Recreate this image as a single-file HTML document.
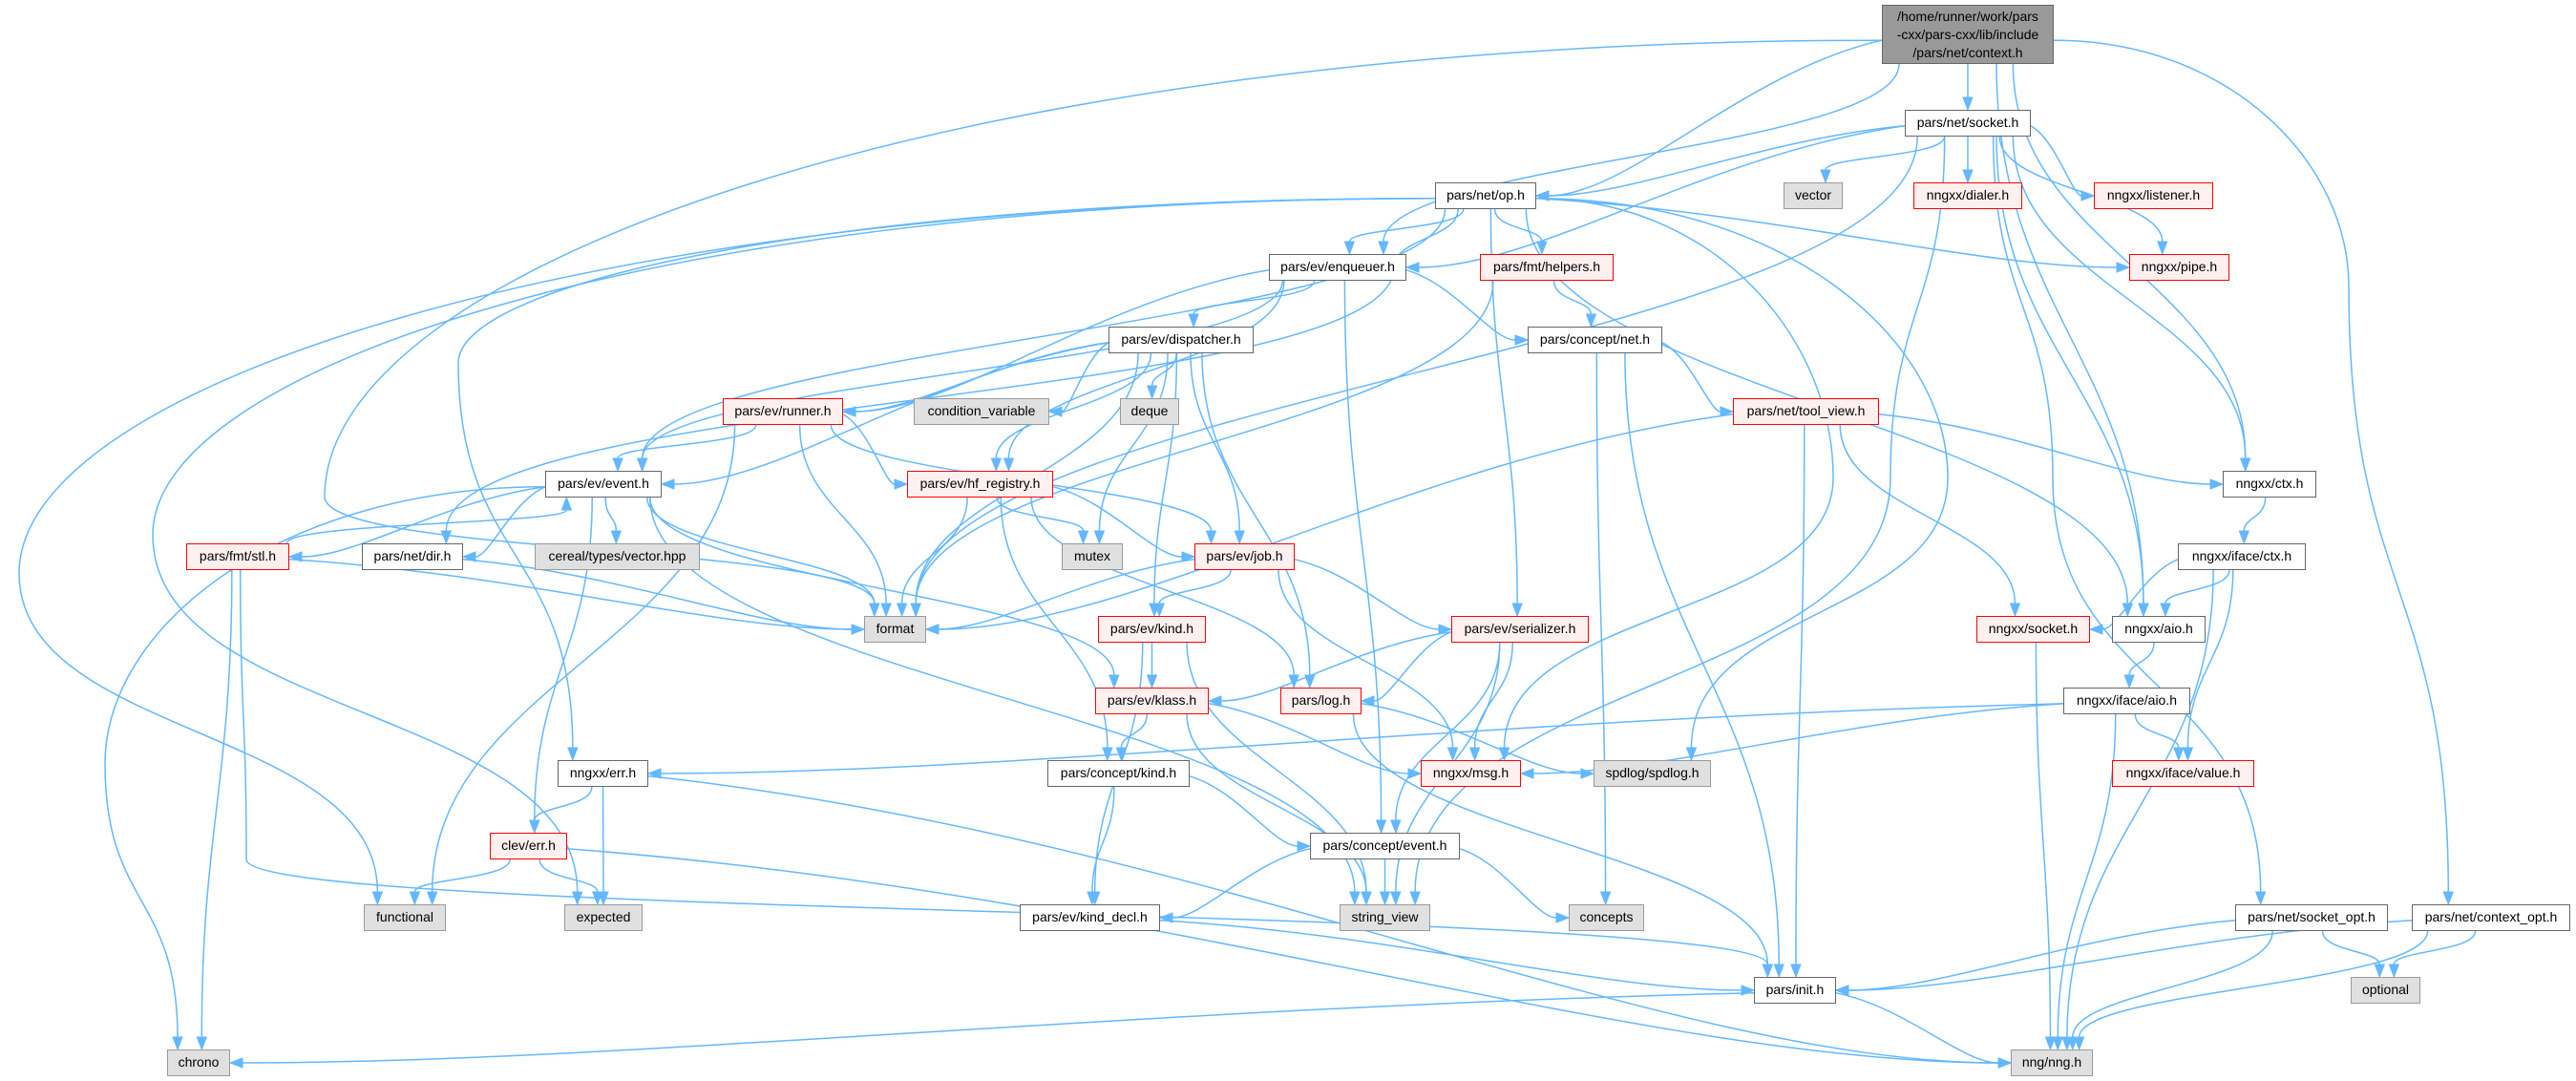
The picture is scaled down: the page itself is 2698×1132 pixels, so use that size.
<!DOCTYPE html>
<html><head><meta charset="utf-8"><style>
body{margin:0;background:#fff;}
#c{position:relative;width:2698px;height:1132px;overflow:hidden;background:#fff;font-family:"Liberation Sans","DejaVu Sans",sans-serif;}
svg{position:absolute;left:0;top:0;}
.n{position:absolute;box-sizing:border-box;height:28px;border:1.5px solid #666;background:#fff;color:#000;font-size:14px;line-height:25px;text-align:center;white-space:nowrap;z-index:2;}
.r{border-color:#f00;background:#fff0f0;}
.g{border-color:#999;background:#e0e0e0;}
.d{border-color:#666;background:#999;line-height:19px;padding-top:2px;}
</style></head><body><div id="c">
<svg id="s" width="2698" height="1132"></svg>
<div class="n d" id="context" style="left:1971px;top:5px;width:180px;height:62px">/home/runner/work/pars<br>-cxx/pars-cxx/lib/include<br>/pars/net/context.h</div>
<div class="n" id="socket" style="left:1995px;top:115px;width:132px">pars/net/socket.h</div>
<div class="n" id="op" style="left:1503px;top:191px;width:106px">pars/net/op.h</div>
<div class="n g" id="vector" style="left:1868px;top:191px;width:62px">vector</div>
<div class="n r" id="dialer" style="left:2004px;top:191px;width:114px">nngxx/dialer.h</div>
<div class="n r" id="listener" style="left:2193px;top:191px;width:125px">nngxx/listener.h</div>
<div class="n" id="enqueuer" style="left:1329px;top:266px;width:144px">pars/ev/enqueuer.h</div>
<div class="n r" id="helpers" style="left:1550px;top:266px;width:140px">pars/fmt/helpers.h</div>
<div class="n r" id="pipe" style="left:2230px;top:266px;width:105px">nngxx/pipe.h</div>
<div class="n" id="dispatcher" style="left:1161px;top:342px;width:152px">pars/ev/dispatcher.h</div>
<div class="n" id="cnet" style="left:1600px;top:342px;width:141px">pars/concept/net.h</div>
<div class="n r" id="runner" style="left:757px;top:417px;width:126px">pars/ev/runner.h</div>
<div class="n g" id="condvar" style="left:957px;top:417px;width:142px">condition_variable</div>
<div class="n g" id="deque" style="left:1173px;top:417px;width:62px">deque</div>
<div class="n r" id="toolview" style="left:1815px;top:417px;width:153px">pars/net/tool_view.h</div>
<div class="n" id="event" style="left:571px;top:493px;width:122px">pars/ev/event.h</div>
<div class="n r" id="hfreg" style="left:950px;top:493px;width:153px">pars/ev/hf_registry.h</div>
<div class="n" id="ctx" style="left:2328px;top:493px;width:98px">nngxx/ctx.h</div>
<div class="n r" id="stl" style="left:195px;top:569px;width:108px">pars/fmt/stl.h</div>
<div class="n" id="dir" style="left:379px;top:569px;width:106px">pars/net/dir.h</div>
<div class="n g" id="cereal" style="left:560px;top:569px;width:173px">cereal/types/vector.hpp</div>
<div class="n g" id="mutex" style="left:1112px;top:569px;width:64px">mutex</div>
<div class="n r" id="job" style="left:1251px;top:569px;width:105px">pars/ev/job.h</div>
<div class="n" id="ifctx" style="left:2281px;top:569px;width:134px">nngxx/iface/ctx.h</div>
<div class="n g" id="format" style="left:905px;top:645px;width:65px">format</div>
<div class="n r" id="kind" style="left:1150px;top:645px;width:113px">pars/ev/kind.h</div>
<div class="n r" id="serializer" style="left:1520px;top:645px;width:144px">pars/ev/serializer.h</div>
<div class="n r" id="nsocket" style="left:2070px;top:645px;width:119px">nngxx/socket.h</div>
<div class="n" id="aio" style="left:2212px;top:645px;width:98px">nngxx/aio.h</div>
<div class="n r" id="klass" style="left:1147px;top:720px;width:119px">pars/ev/klass.h</div>
<div class="n r" id="log" style="left:1341px;top:720px;width:85px">pars/log.h</div>
<div class="n" id="ifaio" style="left:2161px;top:720px;width:133px">nngxx/iface/aio.h</div>
<div class="n" id="err" style="left:584px;top:796px;width:95px">nngxx/err.h</div>
<div class="n" id="ckind" style="left:1097px;top:796px;width:149px">pars/concept/kind.h</div>
<div class="n r" id="msg" style="left:1488px;top:796px;width:105px">nngxx/msg.h</div>
<div class="n g" id="spdlog" style="left:1669px;top:796px;width:123px">spdlog/spdlog.h</div>
<div class="n r" id="ifvalue" style="left:2212px;top:796px;width:149px">nngxx/iface/value.h</div>
<div class="n r" id="clev" style="left:513px;top:872px;width:81px">clev/err.h</div>
<div class="n" id="cevent" style="left:1372px;top:872px;width:157px">pars/concept/event.h</div>
<div class="n g" id="functional" style="left:381px;top:947px;width:86px">functional</div>
<div class="n g" id="expected" style="left:591px;top:947px;width:82px">expected</div>
<div class="n" id="kinddecl" style="left:1068px;top:947px;width:147px">pars/ev/kind_decl.h</div>
<div class="n g" id="stringview" style="left:1403px;top:947px;width:95px">string_view</div>
<div class="n g" id="concepts" style="left:1643px;top:947px;width:79px">concepts</div>
<div class="n" id="sockopt" style="left:2341px;top:947px;width:160px">pars/net/socket_opt.h</div>
<div class="n" id="ctxopt" style="left:2526px;top:947px;width:166px">pars/net/context_opt.h</div>
<div class="n" id="init" style="left:1837px;top:1023px;width:86px">pars/init.h</div>
<div class="n g" id="optional" style="left:2462px;top:1023px;width:73px">optional</div>
<div class="n g" id="chrono" style="left:175px;top:1099px;width:66px">chrono</div>
<div class="n g" id="nng" style="left:2106px;top:1099px;width:86px">nng/nng.h</div>
</div>
<script>
var E={
context:["socket","op","enqueuer","format@340,520","ctx","aio","ctxopt@2460,300"],
socket:["op","enqueuer","vector","dialer","listener","pipe","format","stringview@1980,500","ctx","aio","sockopt@2150,500"],
op:["enqueuer","helpers","event","dir@1460,280","functional@20,600","expected@160,560","err@480,380","pipe","msg@1920,500","serializer","aio","spdlog@2040,500"],
enqueuer:["dispatcher","cnet","event","runner","hfreg","cevent"],
helpers:["cnet","format"],
dispatcher:["condvar","deque","mutex","job","hfreg","runner","event","kind","log","format"],
cnet:["toolview","init","concepts"],
runner:["event","hfreg","job","format","functional"],
toolview:["ctx","nsocket","format","init"],
event:["stl","dir","cereal","format","klass","clev","chrono@110,800","stringview"],
stl:["event","format","chrono","init@258,900"],
dir:["format"],
hfreg:["mutex","job","format","ckind","log"],
job:["kind","serializer","format","msg"],
kind:["klass","kinddecl","stringview"],
serializer:["klass","log","msg","cevent","stringview"],
klass:["ckind","msg","stringview"],
log:["spdlog","init"],
ckind:["cevent","kinddecl"],
cevent:["kinddecl","stringview","concepts"],
kinddecl:["init"],
err:["clev","expected","nng"],
clev:["functional","expected","nng"],
ctx:["ifctx"],
ifctx:["nsocket","aio","ifvalue","nng"],
aio:["ifaio"],
ifaio:["err","msg","ifvalue","nng"],
nsocket:["nng"],
sockopt:["init","optional","nng"],
ctxopt:["init","optional","nng"],
init:["chrono","nng"]};
function B(id){var e=document.getElementById(id);return{x:e.offsetLeft,y:e.offsetTop,w:e.offsetWidth,h:e.offsetHeight};}
function cl(v,m){return Math.max(-m,Math.min(m,v));}
var out="",C="#63b8ff";
function arrow(x3,y3,vx,vy){var L=Math.sqrt(vx*vx+vy*vy)||1;vx/=L;vy/=L;var ex=x3-vx*13,ey=y3-vy*13,px=-vy*5,py=vx*5;
out+='<polygon points="'+x3+','+y3+' '+(ex+px)+','+(ey+py)+' '+(ex-px)+','+(ey-py)+'" fill="'+C+'" stroke="'+C+'"/>';return [ex,ey];}
for(var s in E){E[s].forEach(function(dd){
var parts=dd.split("@"),d=parts[0];
var a=B(s),b=B(d),ax=a.x+a.w/2,bx=b.x+b.w/2,x0,y0,x3,y3,c1,c2;
if(parts[1]){var w=parts[1].split(",").map(Number);
 if(Math.abs(w[0]-ax)>a.w){x0=w[0]<ax?a.x:a.x+a.w;y0=a.y+a.h*0.6;c1=[x0+(w[0]-x0)*0.6,y0];}
 else{x0=ax+cl((w[0]-ax)*0.3,a.w/2.5);y0=a.y+a.h;c1=[x0,y0+(w[1]-y0)*0.5];}
 x3=bx+cl((w[0]-bx)*0.3,b.w/3);y3=b.y;
 var k1=(w[1]-y0)*0.5,k2=(y3-w[1])*0.5;
 var ep=arrow(x3,y3,0,1);
 out+='<path d="M'+x0+','+y0+' C'+c1[0]+','+c1[1]+' '+w[0]+','+(w[1]-k1)+' '+w[0]+','+w[1]+' C'+w[0]+','+(w[1]+k2)+' '+ep[0]+','+(ep[1]-k2)+' '+ep[0]+','+ep[1]+'" fill="none" stroke="'+C+'" stroke-width="1.5"/>';
 return;}
if(b.y>a.y+a.h){var dy=b.y-(a.y+a.h),dx=bx-ax;
 if(Math.abs(dx)>4*dy){x0=dx>0?a.x+a.w:a.x;y0=a.y+a.h*0.6;x3=dx>0?b.x:b.x+b.w;y3=b.y+b.h/2;
  c1=[x0+(x3-x0)*0.4,y0+(y3-y0)*0.2];c2=[x3-(x3-x0)*0.25,y3];}
 else{x0=ax+cl(dx*0.15,a.w/2.5);y0=a.y+a.h;x3=bx+cl(-dx*0.08,b.w/3);y3=b.y;
  c1=[x0,y0+dy*0.45];c2=[x3,y3-dy*0.45];}}
else{var dy=a.y-(b.y+b.h),dx=bx-ax;x0=ax+cl(dx*0.15,a.w/2.5)+8;y0=a.y;x3=bx+cl(-dx*0.08,b.w/3)-8;y3=b.y+b.h;
 if(dy<=0)dy=20;c1=[x0,y0-dy*0.45];c2=[x3,y3+dy*0.45];}
var ep=arrow(x3,y3,x3-c2[0],y3-c2[1]);
var vx=x3-c2[0],vy=y3-c2[1],L=Math.sqrt(vx*vx+vy*vy)||1;vx/=L;vy/=L;
out+='<path d="M'+x0+','+y0+' C'+c1[0]+','+c1[1]+' '+(c2[0]-vx*6)+','+(c2[1]-vy*6)+' '+ep[0]+','+ep[1]+'" fill="none" stroke="'+C+'" stroke-width="1.5"/>';
});}
document.getElementById("s").innerHTML=out;
</script>
</body></html>
